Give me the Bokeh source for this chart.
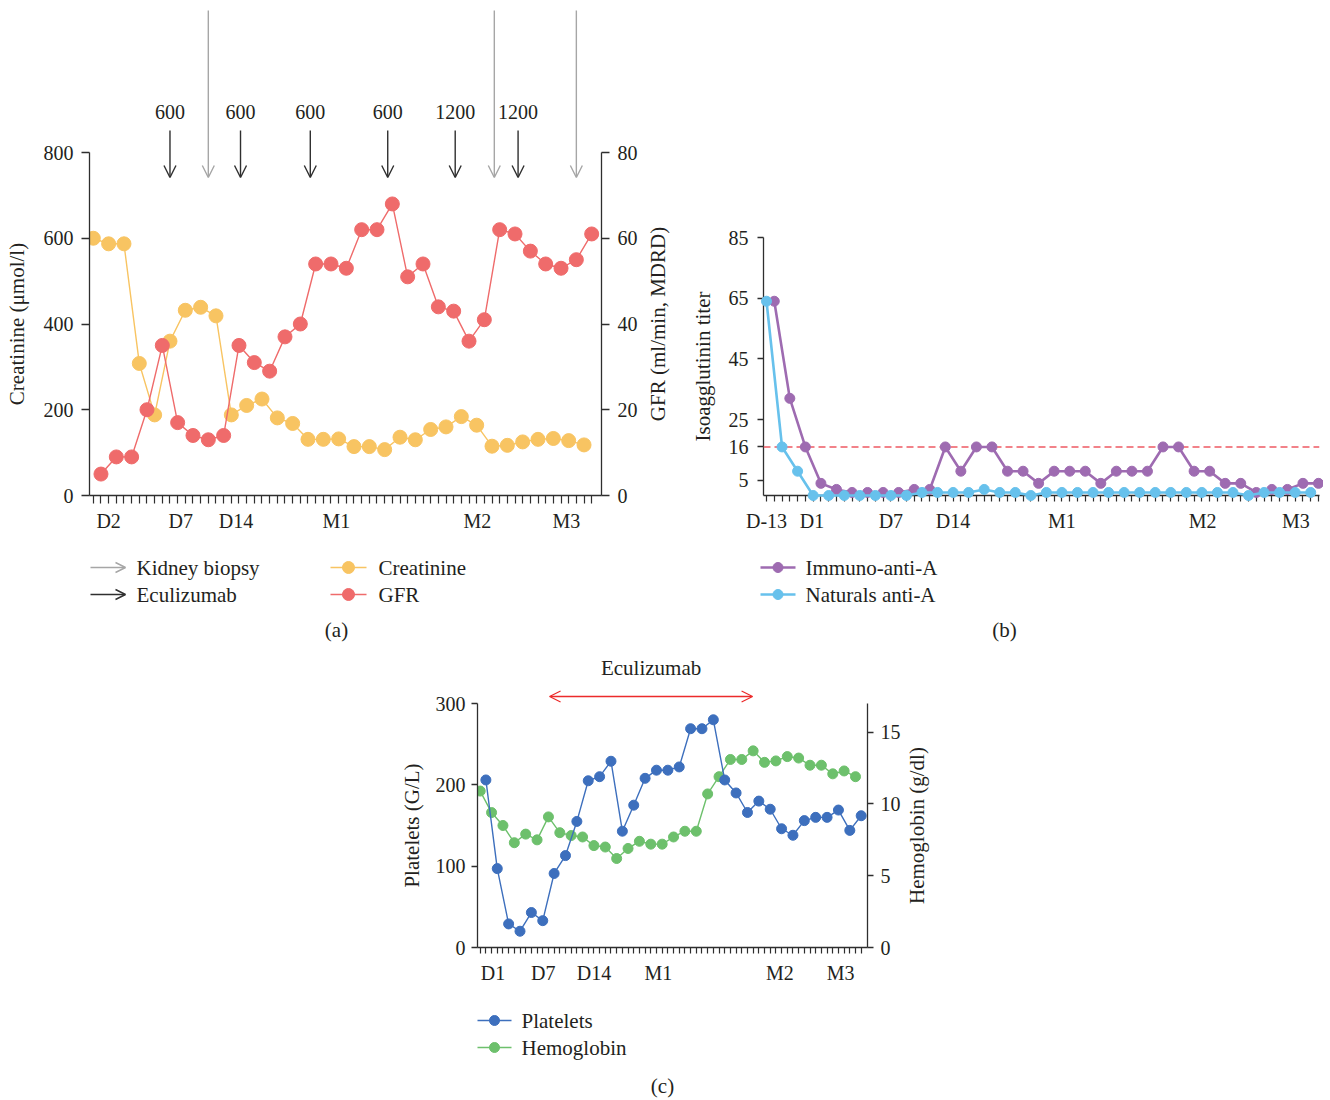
import math
from bokeh.plotting import figure
from bokeh.models import (Range1d, LinearAxis, FixedTicker, Arrow, OpenHead,
                          ColumnDataSource, Span, Spacer, CustomJSTickFormatter)
from bokeh.layouts import column, row
from bokeh.embed import file_html
from bokeh.resources import INLINE
from bokeh.core.properties import value

# ---------------------------------------------------------------- data
# (a) creatinine (umol/l) and GFR (ml/min, MDRD), sampled on alternating slots
a_creatinine = [600, 587, 587, 308, 188, 360, 432, 439, 419, 188, 210, 225, 181, 168,
                131, 131, 132, 114, 114, 107, 136, 130, 154, 160, 184, 164, 115, 117,
                125, 131, 133, 128, 118]
a_gfr = [5, 9, 9, 20, 35, 17, 14, 13, 14, 35, 31, 29, 37, 40, 54, 54, 53, 62, 62, 68,
         51, 54, 44, 43, 36, 41, 62, 61, 57, 54, 53, 55, 61]
a_time_labels = ["D2", "D7", "D14", "M1", "M2", "M3"]
a_time_label_slots = [2, 11.4, 18.6, 31.7, 50.1, 61.7]
a_slot_count = 66
a_eculizumab_slots = [10, 19.2, 28.3, 38.4, 47.2, 55.4]
a_eculizumab_doses = ["600", "600", "600", "600", "1200", "1200"]
a_biopsy_slots = [15, 52.3, 63]
a_creat_ticks = [0, 200, 400, 600, 800]
a_gfr_ticks = [0, 20, 40, 60, 80]

# (b) isoagglutinin titers
b_immuno_anti_a = [64, 32, 16, 4, 2, 1, 1, 1, 1, 2, 2, 16, 8, 16, 16, 8, 8, 4, 8, 8, 8, 4,
                   8, 8, 8, 16, 16, 8, 8, 4, 4, 1, 2, 2, 4, 4]
b_natural_anti_a = [64, 16, 8, 0, 0, 0, 0, 0, 0, 0, 1, 1, 1, 1, 2, 1, 1, 0, 1, 1, 1, 1,
                    1, 1, 1, 1, 1, 1, 1, 1, 1, 0, 1, 1, 1, 1]
b_time_labels = ["D-13", "D1", "D7", "D14", "M1", "M2", "M3"]
b_time_label_slots = [0, 5.85, 16, 24, 38, 56.1, 68.1]
b_slot_count = 72
b_titer_ticks = [5, 16, 25, 45, 65, 85]
b_threshold = 16

# (c) platelets (G/L) and hemoglobin (g/dl)
c_platelets = [206, 97, 29, 20, 43, 33, 91, 113, 155, 205, 210, 229, 143, 175, 208, 218,
               218, 222, 269, 269, 280, 206, 190, 166, 180, 170, 146, 138, 156, 160, 160,
               169, 144, 162]
c_hemoglobin = [10.9, 9.4, 8.5, 7.3, 7.9, 7.5, 9.1, 8.0, 7.8, 7.7, 7.1, 7.0, 6.2, 6.9,
                7.4, 7.2, 7.2, 7.7, 8.1, 8.1, 10.7, 11.9, 13.1, 13.1, 13.7, 12.9, 13.0,
                13.3, 13.2, 12.7, 12.7, 12.1, 12.3, 11.9]
c_time_labels = ["D1", "D7", "D14", "M1", "M2", "M3"]
c_time_label_slots = [2.25, 11.1, 20, 31.35, 52.7, 63.4]
c_slot_count = 68
c_eculizumab_period = [12.2, 47.9]
c_platelet_ticks = [0, 100, 200, 300]
c_hb_ticks = [0, 5, 10, 15]

# ---------------------------------------------------------------- styles
FONT = "Liberation Serif"
TXT = "#231F20"
AXC = "#2E2E2E"
CREAT = "#F8C462"
GFR = "#EF6B6B"
BIOPSY = "#A6A6A6"
ECU = "#2F2F2F"
PURPLE = "#9E6BB1"
LBLUE = "#67C1EC"
THRESH = "#EE5A63"
PLT = "#3D6FBD"
HB = "#6DC06C"
ECU_RED = "#EC2B2B"
TICK_FS = "20px"
TITLE_FS = "21px"


def base_fig(**kw):
    f = figure(output_backend="svg", toolbar_location=None, **kw)
    f.outline_line_color = None
    f.grid.visible = False
    f.background_fill_color = "white"
    f.border_fill_color = "white"
    return f


def style_axis(ax, tick_len, label_standoff):
    ax.axis_line_color = AXC
    ax.axis_line_width = 1.3
    ax.major_tick_line_color = AXC
    ax.major_tick_line_width = 1.3
    ax.major_tick_in = 0
    ax.major_tick_out = tick_len
    ax.minor_tick_line_color = None
    ax.major_label_text_font = FONT
    ax.major_label_text_font_size = TICK_FS
    ax.major_label_text_color = TXT
    ax.major_label_standoff = label_standoff


def time_axis(ax, slots, labels, count, tick_len, standoff):
    style_axis(ax, tick_len, standoff)
    ax.ticker = FixedTicker(ticks=slots, minor_ticks=list(range(count)))
    ax.formatter = CustomJSTickFormatter(
        args=dict(pos=slots, lab=labels),
        code="const i = pos.findIndex(p => Math.abs(p - tick) < 1e-6); return i >= 0 ? lab[i] : '';")
    ax.major_tick_line_color = None
    ax.minor_tick_line_color = AXC
    ax.minor_tick_line_width = 1.2
    ax.minor_tick_in = 0
    ax.minor_tick_out = tick_len


def txt(f, x, y, t, align="center", size=TITLE_FS, color=TXT, angle=0.0):
    f.text(x=x, y=y, text=t, text_font=value(FONT), text_font_size=value(size),
           text_align=align, text_baseline="middle", text_color=color, angle=angle)


def title_fig(x0, x1, border_top, frame_top, frame_bottom, border_bottom, tx, ty, t):
    """Narrow strip holding a rotated axis title, in page pixel coordinates."""
    f = base_fig(frame_width=x1 - x0, frame_height=frame_bottom - frame_top,
                 min_border_left=0, min_border_right=0,
                 min_border_top=border_top, min_border_bottom=border_bottom,
                 x_range=Range1d(x0, x1), y_range=Range1d(-frame_bottom, -frame_top),
                 x_axis_location=None, y_axis_location=None)
    txt(f, [tx], [-ty], [t], angle=math.pi / 2)
    return f


# ---------------------------------------------------------------- panel (a)
# page geometry: frame x 89..601, y 8..495 ; 0 -> 495, 800 -> 152
A_PX = 343 / 800.0
a_top = 487 / A_PX
a_y = lambda py: (495 - py) / A_PX

pa = base_fig(frame_width=512, frame_height=487, min_border_left=49, min_border_right=40,
              min_border_top=8, min_border_bottom=60,
              x_range=Range1d(-0.496, 66.28), y_range=Range1d(0, a_top))
pa.extra_y_ranges = {"gfr": Range1d(0, a_top / 10.0)}

time_axis(pa.xaxis[0], a_time_label_slots, a_time_labels, a_slot_count, 8, 6)
ya = pa.yaxis[0]
style_axis(ya, 8, 8)
ya.ticker = FixedTicker(ticks=a_creat_ticks)
ya.bounds = (0, 800)

yr = LinearAxis(y_range_name="gfr")
style_axis(yr, 8, 8)
yr.ticker = FixedTicker(ticks=a_gfr_ticks)
yr.bounds = (0, 80)
pa.add_layout(yr, "right")

a_cx = [2 * i for i in range(len(a_creatinine))]
a_gx = [2 * i + 1 for i in range(len(a_gfr))]
pa.line(a_cx, a_creatinine, line_color=CREAT, line_width=1.4)
pa.scatter(a_cx, a_creatinine, size=14, color=CREAT)
pa.line(a_gx, a_gfr, line_color=GFR, line_width=1.4, y_range_name="gfr")
pa.scatter(a_gx, a_gfr, size=14, color=GFR, y_range_name="gfr")

ecu_src = ColumnDataSource(dict(x=a_eculizumab_slots,
                                y0=[a_y(130)] * len(a_eculizumab_slots),
                                y1=[a_y(177)] * len(a_eculizumab_slots)))
pa.add_layout(Arrow(end=OpenHead(size=12, line_color=ECU, line_width=1.4),
                    x_start="x", y_start="y0", x_end="x", y_end="y1", source=ecu_src,
                    line_color=ECU, line_width=1.4))
bio_src = ColumnDataSource(dict(x=a_biopsy_slots,
                                y0=[a_y(10)] * len(a_biopsy_slots),
                                y1=[a_y(177)] * len(a_biopsy_slots)))
pa.add_layout(Arrow(end=OpenHead(size=12, line_color=BIOPSY, line_width=1.4),
                    x_start="x", y_start="y0", x_end="x", y_end="y1", source=bio_src,
                    line_color=BIOPSY, line_width=1.4))
txt(pa, a_eculizumab_slots, [a_y(111)] * len(a_eculizumab_slots), a_eculizumab_doses,
    size=TICK_FS)

tA_left = title_fig(0, 40, 8, 8, 495, 60, 16, 323.5, "Creatinine (μmol/l)")
tA_right = title_fig(641, 680, 8, 8, 495, 60, 657, 323.5, "GFR (ml/min, MDRD)")

# ---------------------------------------------------------------- panel (b)
# frame x 762..1318, y 8..495 ; 85 -> 237, 0 -> 495
B_PX = 258 / 85.0
pb = base_fig(frame_width=556, frame_height=487, min_border_left=37, min_border_right=4,
              min_border_top=8, min_border_bottom=60,
              x_range=Range1d(-0.386, 71.13), y_range=Range1d(0, 85 + 229 / B_PX))
time_axis(pb.xaxis[0], b_time_label_slots, b_time_labels, b_slot_count, 6, 8)
yb = pb.yaxis[0]
style_axis(yb, 6, 9)
yb.ticker = FixedTicker(ticks=b_titer_ticks)
yb.bounds = (0, 85)

pb.add_layout(Span(location=b_threshold, dimension="width", line_color=THRESH,
                   line_width=1.6, line_dash="7 4"))
b_ix = [2 * i + 1 for i in range(len(b_immuno_anti_a))]
b_nx = [2 * i for i in range(len(b_natural_anti_a))]
pb.line(b_ix, b_immuno_anti_a, line_color=PURPLE, line_width=2.6, level="overlay")
pb.scatter(b_ix, b_immuno_anti_a, size=10, color=PURPLE, level="overlay")
pb.line(b_nx, b_natural_anti_a, line_color=LBLUE, line_width=2.6, level="overlay")
pb.scatter(b_nx, b_natural_anti_a, size=10, color=LBLUE, level="overlay")

tB_left = title_fig(680, 725, 8, 8, 495, 60, 702, 366, "Isoagglutinin titer")

# ---------------------------------------------------------------- panel (c)
# frame x 477..867, y 650..947 ; 0 -> 947, 300 -> 703
C_PX = 244 / 300.0
c_top = 297 / C_PX
c_y = lambda py: (947 - py) / C_PX
pc = base_fig(frame_width=390, frame_height=297, min_border_left=49, min_border_right=38,
              min_border_top=0, min_border_bottom=50,
              x_range=Range1d(-0.475, 68.11), y_range=Range1d(0, c_top))
pc.extra_y_ranges = {"hb": Range1d(0, c_top * 17.0 / 300.0)}
time_axis(pc.xaxis[0], c_time_label_slots, c_time_labels, c_slot_count, 6, 8)
yc = pc.yaxis[0]
style_axis(yc, 6, 6)
yc.ticker = FixedTicker(ticks=c_platelet_ticks)
yc.bounds = (0, 300)
ycr = LinearAxis(y_range_name="hb")
style_axis(ycr, 6, 7)
ycr.ticker = FixedTicker(ticks=c_hb_ticks)
ycr.bounds = (0, 17)
pc.add_layout(ycr, "right")

c_hx = [2 * i for i in range(len(c_hemoglobin))]
c_px = [2 * i + 1 for i in range(len(c_platelets))]
pc.line(c_hx, c_hemoglobin, line_color=HB, line_width=1.4, y_range_name="hb")
pc.scatter(c_hx, c_hemoglobin, size=10, color=HB, y_range_name="hb")
pc.line(c_px, c_platelets, line_color=PLT, line_width=1.4)
pc.scatter(c_px, c_platelets, size=10, color=PLT)

pc.add_layout(Arrow(start=OpenHead(size=11, line_color=ECU_RED, line_width=1.3),
                    end=OpenHead(size=11, line_color=ECU_RED, line_width=1.3),
                    x_start=c_eculizumab_period[0], x_end=c_eculizumab_period[1],
                    y_start=c_y(696), y_end=c_y(696),
                    line_color=ECU_RED, line_width=1.3))
txt(pc, [sum(c_eculizumab_period) / 2], [c_y(667)], ["Eculizumab"])

tC_left = title_fig(395, 428, 0, 650, 947, 50, 411, 825, "Platelets (G/L)")
tC_right = title_fig(905, 935, 0, 650, 947, 50, 916, 825, "Hemoglobin (g/dl)")


# ---------------------------------------------------------------- legends / captions
def overlay(x0, x1, y0, y1):
    return base_fig(width=x1 - x0, height=y1 - y0, x_range=Range1d(x0, x1),
                    y_range=Range1d(y1, y0), min_border=0,
                    x_axis_location=None, y_axis_location=None)


def leg_arrow(f, x0, x1, y, color, label, tx):
    f.add_layout(Arrow(end=OpenHead(size=10, line_color=color, line_width=1.4),
                       x_start=x0, y_start=y, x_end=x1, y_end=y,
                       line_color=color, line_width=1.4))
    txt(f, [tx], [y], [label], align="left")


def leg_line(f, x0, x1, y, color, label, tx, msize, lw):
    f.line([x0, x1], [y, y], line_color=color, line_width=lw)
    f.scatter([(x0 + x1) / 2], [y], size=msize, color=color)
    txt(f, [tx], [y], [label], align="left")


lab = overlay(0, 1322, 555, 650)
leg_arrow(lab, 90, 125, 567, BIOPSY, "Kidney biopsy", 136)
leg_arrow(lab, 90, 125, 594, ECU, "Eculizumab", 136)
leg_line(lab, 330, 366, 567, CREAT, "Creatinine", 378, 12, 1.4)
leg_line(lab, 330, 366, 594, GFR, "GFR", 378, 12, 1.4)
txt(lab, [336], [629], ["(a)"])
leg_line(lab, 760, 795, 567, PURPLE, "Immuno-anti-A", 805, 10, 2.6)
leg_line(lab, 760, 795, 594, LBLUE, "Naturals anti-A", 805, 10, 2.6)
txt(lab, [1004], [629], ["(b)"])

lc = overlay(0, 1322, 997, 1098)
leg_line(lc, 477, 511, 1020, PLT, "Platelets", 521, 10, 1.4)
leg_line(lc, 477, 511, 1047, HB, "Hemoglobin", 521, 10, 1.4)
txt(lc, [662], [1085], ["(c)"])

layout = column(
    row(tA_left, pa, tA_right, tB_left, pb),
    lab,
    row(Spacer(width=395, height=10), tC_left, pc, tC_right),
    lc,
)

open("out.html", "w").write(file_html(layout, INLINE, title="Figure"))
